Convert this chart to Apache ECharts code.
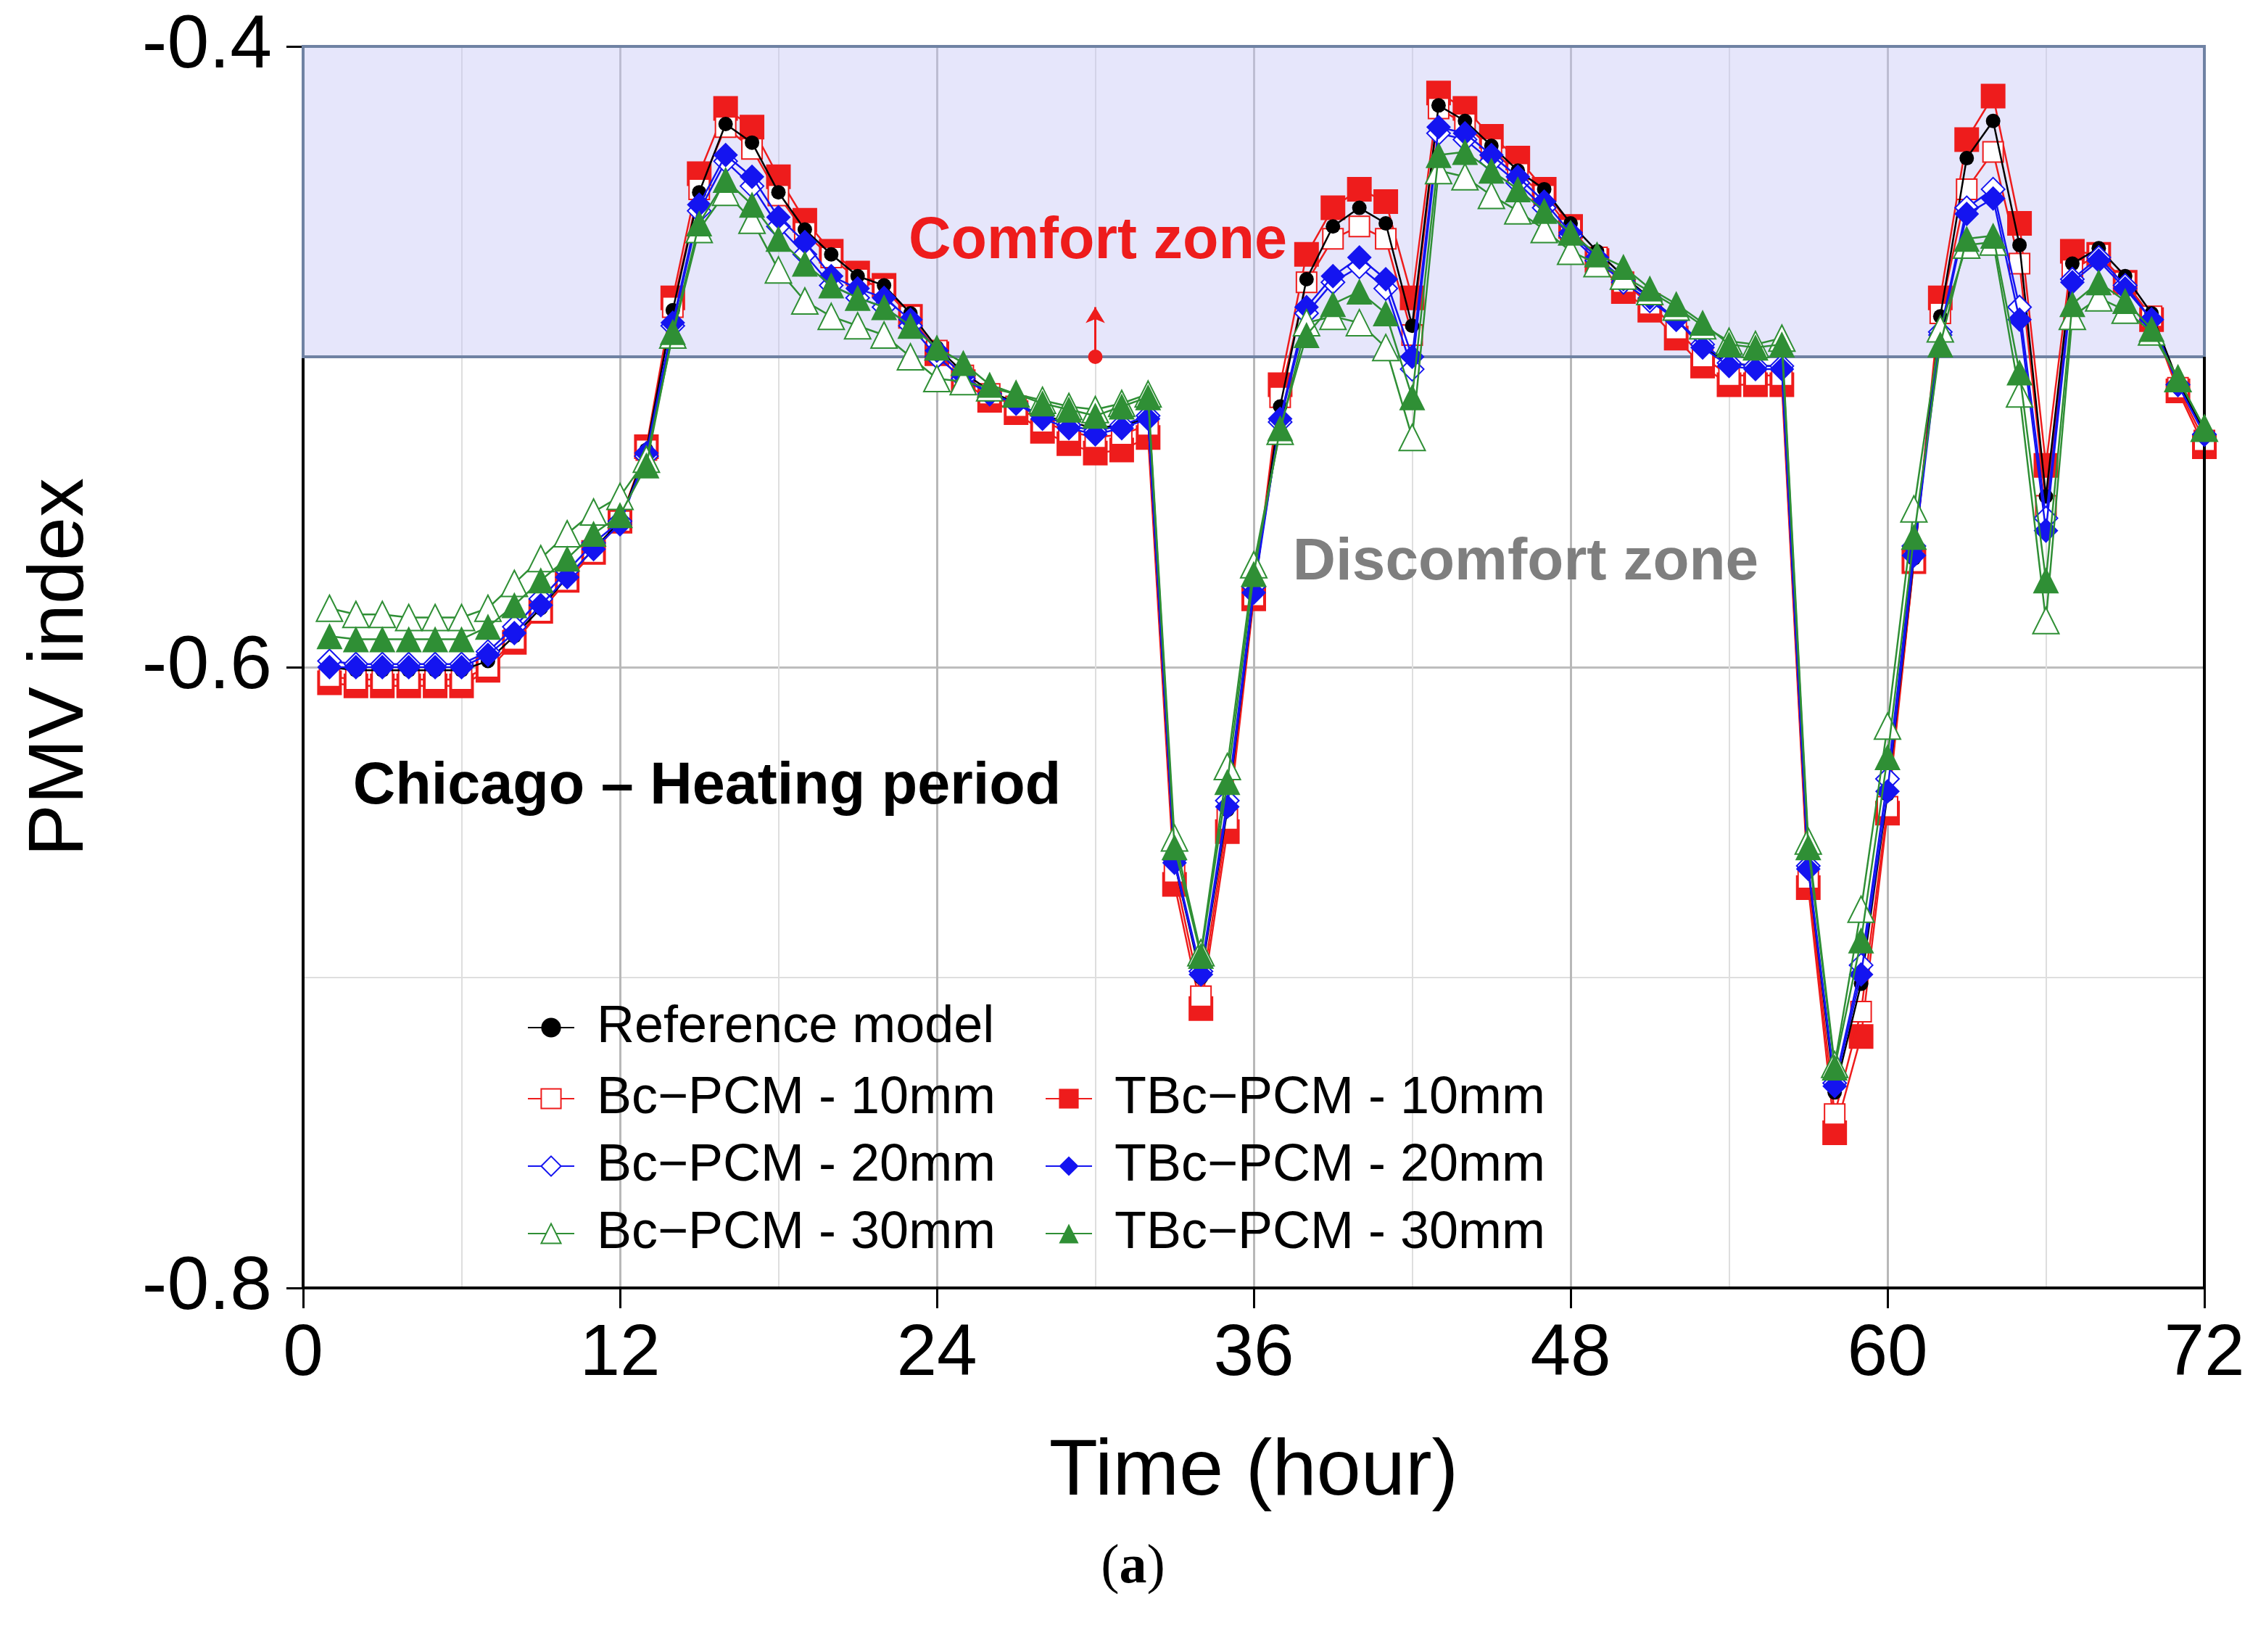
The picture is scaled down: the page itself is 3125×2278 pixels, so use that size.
<!DOCTYPE html>
<html>
<head>
<meta charset="utf-8">
<script src="https://cdn.jsdelivr.net/npm/echarts@6/dist/echarts.min.js"></script>
<style>
  html, body { margin: 0; padding: 0; background: #fff; }
  #box { width: 3125px; height: 2278px; }
</style>
</head>
<body>
<div id="box"></div>
<script>
var hours = [1,2,3,4,5,6,7,8,9,10,11,12,13,14,15,16,17,18,19,20,21,22,23,24,
  25,26,27,28,29,30,31,32,33,34,35,36,37,38,39,40,41,42,43,44,45,46,47,48,
  49,50,51,52,53,54,55,56,57,58,59,60,61,62,63,64,65,66,67,68,69,70,71,72];
var xTicks = [0, 12, 24, 36, 48, 60, 72];
var yTicks = [-0.8, -0.6, -0.4];

var refModel = [-0.600,-0.601,-0.601,-0.601,-0.601,-0.601,-0.598,-0.590,-0.581,-0.571,-0.562,-0.553,
  -0.530,-0.485,-0.447,-0.425,-0.431,-0.447,-0.459,-0.467,-0.474,-0.477,-0.486,-0.497,
  -0.505,-0.511,-0.515,-0.519,-0.521,-0.523,-0.522,-0.520,-0.663,-0.700,-0.646,-0.576,
  -0.516,-0.475,-0.458,-0.452,-0.457,-0.490,-0.419,-0.424,-0.432,-0.440,-0.446,-0.457,
  -0.466,-0.474,-0.481,-0.488,-0.497,-0.502,-0.503,-0.503,-0.665,-0.737,-0.702,-0.641,
  -0.565,-0.487,-0.436,-0.424,-0.464,-0.545,-0.470,-0.465,-0.474,-0.486,-0.508,-0.524];

var bc10 = [-0.603,-0.604,-0.604,-0.604,-0.604,-0.604,-0.600,-0.591,-0.582,-0.572,-0.563,-0.553,
  -0.530,-0.484,-0.446,-0.426,-0.433,-0.448,-0.460,-0.468,-0.475,-0.478,-0.487,-0.498,
  -0.506,-0.512,-0.516,-0.521,-0.524,-0.526,-0.525,-0.522,-0.666,-0.706,-0.649,-0.577,
  -0.513,-0.476,-0.462,-0.458,-0.462,-0.493,-0.420,-0.425,-0.433,-0.441,-0.448,-0.459,
  -0.468,-0.476,-0.483,-0.491,-0.500,-0.506,-0.506,-0.506,-0.668,-0.744,-0.711,-0.645,
  -0.566,-0.486,-0.446,-0.434,-0.470,-0.548,-0.472,-0.467,-0.476,-0.487,-0.510,-0.527];

var bc20 = [-0.598,-0.599,-0.599,-0.599,-0.599,-0.599,-0.595,-0.587,-0.578,-0.569,-0.560,-0.553,
  -0.532,-0.490,-0.453,-0.437,-0.445,-0.458,-0.467,-0.477,-0.481,-0.484,-0.490,-0.500,
  -0.507,-0.512,-0.515,-0.519,-0.522,-0.524,-0.522,-0.519,-0.662,-0.698,-0.643,-0.574,
  -0.521,-0.486,-0.476,-0.471,-0.478,-0.504,-0.428,-0.430,-0.437,-0.444,-0.452,-0.461,
  -0.469,-0.476,-0.482,-0.488,-0.496,-0.502,-0.503,-0.503,-0.664,-0.734,-0.696,-0.636,
  -0.561,-0.492,-0.452,-0.446,-0.484,-0.552,-0.475,-0.468,-0.477,-0.488,-0.509,-0.525];

var bc30 = [-0.581,-0.583,-0.583,-0.584,-0.584,-0.584,-0.581,-0.573,-0.565,-0.557,-0.550,-0.545,
  -0.533,-0.493,-0.459,-0.447,-0.456,-0.472,-0.482,-0.487,-0.490,-0.493,-0.500,-0.507,
  -0.508,-0.510,-0.512,-0.514,-0.516,-0.517,-0.515,-0.512,-0.655,-0.692,-0.632,-0.567,
  -0.524,-0.489,-0.487,-0.489,-0.497,-0.526,-0.440,-0.442,-0.448,-0.453,-0.459,-0.466,
  -0.470,-0.474,-0.479,-0.484,-0.490,-0.495,-0.496,-0.494,-0.656,-0.728,-0.678,-0.619,
  -0.549,-0.491,-0.464,-0.463,-0.512,-0.585,-0.487,-0.481,-0.485,-0.492,-0.507,-0.523];

var tbc10 = [-0.605,-0.606,-0.606,-0.606,-0.606,-0.606,-0.601,-0.592,-0.582,-0.572,-0.563,-0.553,
  -0.529,-0.481,-0.441,-0.420,-0.426,-0.442,-0.456,-0.466,-0.473,-0.477,-0.487,-0.499,
  -0.508,-0.514,-0.518,-0.524,-0.528,-0.531,-0.530,-0.526,-0.670,-0.710,-0.653,-0.578,
  -0.509,-0.467,-0.452,-0.446,-0.450,-0.481,-0.415,-0.420,-0.429,-0.436,-0.446,-0.458,
  -0.469,-0.479,-0.485,-0.494,-0.503,-0.509,-0.509,-0.509,-0.671,-0.750,-0.719,-0.647,
  -0.566,-0.481,-0.430,-0.416,-0.457,-0.535,-0.466,-0.467,-0.476,-0.488,-0.511,-0.529];

var tbc20 = [-0.600,-0.600,-0.600,-0.600,-0.600,-0.600,-0.596,-0.589,-0.580,-0.571,-0.562,-0.554,
  -0.531,-0.489,-0.451,-0.435,-0.442,-0.455,-0.463,-0.474,-0.478,-0.481,-0.488,-0.498,
  -0.506,-0.512,-0.515,-0.520,-0.523,-0.525,-0.523,-0.520,-0.663,-0.699,-0.645,-0.576,
  -0.520,-0.484,-0.474,-0.468,-0.475,-0.500,-0.426,-0.428,-0.435,-0.442,-0.450,-0.460,
  -0.468,-0.475,-0.481,-0.488,-0.497,-0.503,-0.504,-0.504,-0.665,-0.735,-0.699,-0.640,
  -0.564,-0.493,-0.454,-0.449,-0.488,-0.556,-0.476,-0.469,-0.478,-0.488,-0.509,-0.525];

var tbc30 = [-0.590,-0.591,-0.591,-0.591,-0.591,-0.591,-0.587,-0.580,-0.572,-0.565,-0.557,-0.551,
  -0.535,-0.492,-0.457,-0.443,-0.451,-0.462,-0.470,-0.477,-0.481,-0.484,-0.490,-0.497,
  -0.502,-0.509,-0.512,-0.515,-0.517,-0.519,-0.516,-0.513,-0.658,-0.693,-0.637,-0.570,
  -0.523,-0.493,-0.483,-0.479,-0.486,-0.513,-0.435,-0.434,-0.440,-0.446,-0.453,-0.460,
  -0.467,-0.471,-0.478,-0.483,-0.489,-0.496,-0.497,-0.496,-0.658,-0.729,-0.688,-0.629,
  -0.558,-0.496,-0.462,-0.461,-0.505,-0.572,-0.483,-0.476,-0.482,-0.491,-0.507,-0.523];

var RED = '#ee1c1c', BLUE = '#1414f0', GREEN = '#2f8f35';
var FONT = 'Liberation Sans, Arial, sans-serif';

function pairs(vals) {
  return hours.map(function (h, i) { return [h, vals[i]]; });
}

function lineSeries(name, vals, symbol, size, color, z) {
  return {
    name: name,
    type: 'line',
    data: pairs(vals),
    symbol: symbol,
    symbolSize: size,
    showAllSymbol: true,
    z: z,
    lineStyle: { color: color, width: 2.5 },
    itemStyle: { color: color, borderWidth: 2.5 },
    emphasis: { disabled: true }
  };
}

var legendText = { fontSize: 72, color: '#000', fontFamily: FONT, padding: [0, 0, 0, 26] };

var chartDom = document.getElementById('box');
var myChart = echarts.init(chartDom);
var option;

option = {
  animation: false,
  backgroundColor: '#fff',
  textStyle: { fontFamily: FONT },
  grid: { left: 418, right: 85, top: 64, bottom: 502, containLabel: false },
  xAxis: {
    type: 'value',
    min: 0, max: 72, interval: 12,
    name: 'Time (hour)',
    nameLocation: 'middle',
    nameGap: 200,
    nameTextStyle: { fontSize: 110, color: '#000', fontFamily: FONT },
    axisLine: { onZero: false, lineStyle: { color: '#000', width: 4 } },
    axisTick: { show: true, length: 28, lineStyle: { color: '#000', width: 3 } },
    axisLabel: { fontSize: 100, color: '#000', margin: 42, fontFamily: FONT },
    splitLine: { show: true, lineStyle: { color: '#b8b8b8', width: 3 } },
    minorTick: { show: false, splitNumber: 2 },
    minorSplitLine: { show: true, lineStyle: { color: '#dedede', width: 2 } }
  },
  yAxis: {
    type: 'value',
    min: yTicks[0], max: yTicks[2], interval: 0.2,
    name: 'PMV index',
    nameLocation: 'middle',
    nameGap: 280,
    nameTextStyle: { fontSize: 108, color: '#000', fontFamily: FONT },
    axisLine: { show: true, lineStyle: { color: '#000', width: 4 } },
    axisTick: { show: true, length: 23, lineStyle: { color: '#000', width: 3 } },
    axisLabel: { fontSize: 104, color: '#000', margin: 43, fontFamily: FONT,
      formatter: function (v) { return v.toFixed(1); } },
    splitLine: { show: true, lineStyle: { color: '#bdbdbd', width: 3 } },
    minorTick: { show: false, splitNumber: 2 },
    minorSplitLine: { show: true, lineStyle: { color: '#dedede', width: 2 } }
  },
  legend: [
    {
      data: ['Reference model'],
      orient: 'vertical', left: 722, top: 1376,
      itemWidth: 64, itemHeight: 34, itemGap: 21,
      textStyle: legendText
    },
    {
      data: ['Bc\u2212PCM - 10mm', 'Bc\u2212PCM - 20mm', 'Bc\u2212PCM - 30mm'],
      orient: 'vertical', left: 722, top: 1474,
      itemWidth: 64, itemHeight: 34, itemGap: 21,
      textStyle: legendText
    },
    {
      data: ['TBc\u2212PCM - 10mm', 'TBc\u2212PCM - 20mm', 'TBc\u2212PCM - 30mm'],
      orient: 'vertical', left: 1436, top: 1474,
      itemWidth: 64, itemHeight: 34, itemGap: 21,
      textStyle: legendText
    }
  ],
  graphic: [
    { type: 'text', z: 100, left: 'center', x: 0, top: 2124, style: {
        text: '{p|(}{b|a}{p|)}',
        rich: {
          p: { fontSize: 76, fontFamily: 'Liberation Serif, serif', fill: '#000' },
          b: { fontSize: 76, fontFamily: 'Liberation Serif, serif', fontWeight: 'bold', fill: '#000' }
        }
      } },
    { type: 'text', z: 100, x: 1514, y: 334, style: {
        text: 'Comfort zone', fontSize: 81, fontWeight: 'bold', fontFamily: FONT,
        fill: '#ee1c1c', textAlign: 'center', textVerticalAlign: 'middle' } },
    { type: 'text', z: 100, x: 2104, y: 776, style: {
        text: 'Discomfort zone', fontSize: 82, fontWeight: 'bold', fontFamily: FONT,
        fill: '#7f7f7f', textAlign: 'center', textVerticalAlign: 'middle' } },
    { type: 'text', z: 100, x: 975, y: 1086, style: {
        text: 'Chicago \u2013 Heating period', fontSize: 81, fontWeight: 'bold', fontFamily: FONT,
        fill: '#000', textAlign: 'center', textVerticalAlign: 'middle' } }
  ],
  series: [
    {
      name: 'zone',
      type: 'line',
      data: [],
      z: 1,
      silent: true,
      markArea: {
        silent: true,
        itemStyle: { color: 'rgba(196,196,245,0.42)', borderColor: '#6f82a3', borderWidth: 4 },
        data: [[{ yAxis: -0.4 }, { yAxis: -0.5 }]]
      },
      markLine: {
        silent: true,
        symbol: ['none', 'none'],
        label: { show: false },
        lineStyle: { color: '#000', width: 4, type: 'solid' },
        data: [[{ coord: [72, -0.8] }, { coord: [72, -0.5] }]]
      }
    },
    lineSeries('TBc\u2212PCM - 10mm', tbc10, 'rect', 34, RED, 3),
    lineSeries('Bc\u2212PCM - 10mm', bc10, 'emptyRect', 28, RED, 4),
    lineSeries('Reference model', refModel, 'circle', 20, '#000', 5),
    lineSeries('Bc\u2212PCM - 20mm', bc20, 'emptyDiamond', 32, BLUE, 6),
    lineSeries('TBc\u2212PCM - 20mm', tbc20, 'diamond', 34, BLUE, 7),
    lineSeries('Bc\u2212PCM - 30mm', bc30, 'emptyTriangle', 36, GREEN, 8),
    lineSeries('TBc\u2212PCM - 30mm', tbc30, 'triangle', 36, GREEN, 9),
    {
      name: 'arrow',
      type: 'line',
      data: [],
      z: 10,
      silent: true,
      markLine: {
        silent: true,
        symbol: ['circle', 'arrow'],
        symbolSize: [20, 22],
        label: { show: false },
        lineStyle: { color: RED, width: 3, type: 'solid' },
        data: [[{ coord: [30, -0.5] }, { coord: [30, -0.484] }]]
      }
    }
  ]
};

option && myChart.setOption(option);
</script>
</body>
</html>
